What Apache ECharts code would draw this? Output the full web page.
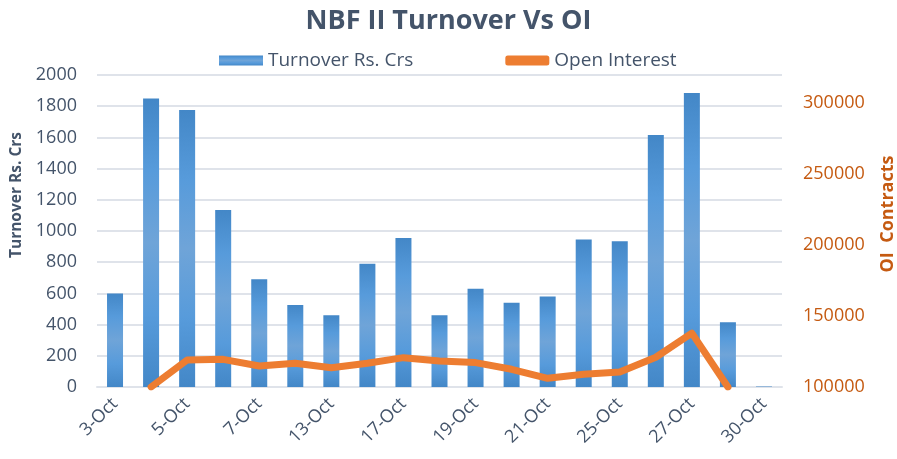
<!DOCTYPE html>
<html>
<head>
<meta charset="utf-8">
<script src="https://cdn.jsdelivr.net/npm/echarts@6/dist/echarts.min.js"></script>
<style>
  html, body { margin: 0; padding: 0; background: #fff; }
  #chart { width: 897px; height: 459px; }
</style>
</head>
<body>
<div id="chart"></div>
<script>
// data
var dates = ['3-Oct', '4-Oct', '5-Oct', '6-Oct', '7-Oct', '10-Oct', '13-Oct', '14-Oct', '17-Oct', '18-Oct',
             '19-Oct', '20-Oct', '21-Oct', '24-Oct', '25-Oct', '26-Oct', '27-Oct', '28-Oct', '30-Oct'];
var turnover = [600, 1850, 1775, 1135, 690, 525, 460, 790, 955, 460,
                630, 540, 580, 945, 935, 1615, 1885, 415, 3];
var openInterest = [null, 100000, 119000, 119500, 114800, 116700, 113600, 116700, 120700, 118400,
                    117200, 112500, 106100, 109000, 110600, 121000, 138000, 100000, null];

var textColor = '#44546a';
var orange = '#c55a11';
var font = '"Open Sans", "Noto Sans", sans-serif';

var chart = echarts.init(document.getElementById('chart'));

var barGradient = new echarts.graphic.LinearGradient(0, 0, 0, 1, [
    { offset: 0, color: '#4387c7' },
    { offset: 0.25, color: '#579bdb' },
    { offset: 0.5, color: '#6fa4d8' },
    { offset: 0.75, color: '#579bdb' },
    { offset: 1, color: '#4387c7' }
]);

function plain(v) { return String(v); }

var option = {
    animation: false,
    textStyle: { fontFamily: font },
    title: {
        text: 'NBF II Turnover Vs OI',
        left: 'center',
        top: 3,
        textStyle: { color: textColor, fontSize: 27, fontWeight: 'bold', fontFamily: font }
    },
    legend: {
        top: 46,
        left: 214,
        itemGap: 92,
        itemWidth: 44,
        itemHeight: 10,
        textStyle: { color: textColor, fontSize: 19, fontFamily: font },
        data: [
            { name: 'Turnover Rs. Crs', icon: 'rect' },
            { name: 'Open Interest', icon: 'roundRect', itemStyle: { color: '#ed7d31' } }
        ]
    },
    grid: {
        left: 97,
        right: 115,
        top: 75,
        bottom: 72,
        containLabel: false,
        outerBoundsMode: 'none'
    },
    // axis titles, placed as in the reference (not centred on the grid)
    graphic: [
        {
            type: 'text',
            x: 17,
            y: 195,
            rotation: Math.PI / 2,
            style: {
                text: 'Turnover Rs. Crs',
                fill: textColor,
                font: 'bold 15.5px ' + font,
                align: 'center',
                verticalAlign: 'middle'
            }
        },
        {
            type: 'text',
            x: 888,
            y: 214,
            rotation: Math.PI / 2,
            style: {
                text: 'OI  Contracts',
                fill: orange,
                font: 'bold 18px ' + font,
                align: 'center',
                verticalAlign: 'middle'
            }
        }
    ],
    xAxis: {
        type: 'category',
        data: dates,
        axisLine: { show: true, lineStyle: { color: '#dfe3ea', width: 2 } },
        axisTick: { show: false },
        axisLabel: {
            interval: 1,
            rotate: 45,
            color: textColor,
            fontSize: 18,
            margin: 14,
            fontFamily: font
        }
    },
    yAxis: [
        {
            type: 'value',
            min: 0,
            max: 2000,
            interval: 200,
            axisLine: { show: false },
            axisTick: { show: false },
            axisLabel: { color: textColor, fontSize: 18, margin: 20, formatter: plain, fontFamily: font },
            splitLine: { lineStyle: { color: '#dfe3ea', width: 2 } }
        },
        {
            type: 'value',
            min: 100000,
            max: 320000,
            interval: 50000,
            axisLine: { show: false },
            axisTick: { show: false },
            axisLabel: { color: orange, fontSize: 18, margin: 21, showMaxLabel: false, formatter: plain, fontFamily: font },
            splitLine: { show: false }
        }
    ],
    series: [
        {
            name: 'Turnover Rs. Crs',
            type: 'bar',
            yAxisIndex: 0,
            data: turnover,
            barWidth: 16,
            itemStyle: { color: barGradient }
        },
        {
            name: 'Open Interest',
            type: 'line',
            yAxisIndex: 1,
            data: openInterest,
            symbol: 'none',
            connectNulls: false,
            lineStyle: { color: '#ed7d31', width: 7, cap: 'round', join: 'round' },
            itemStyle: { color: '#ed7d31' }
        }
    ]
};

chart.setOption(option);
</script>
</body>
</html>
